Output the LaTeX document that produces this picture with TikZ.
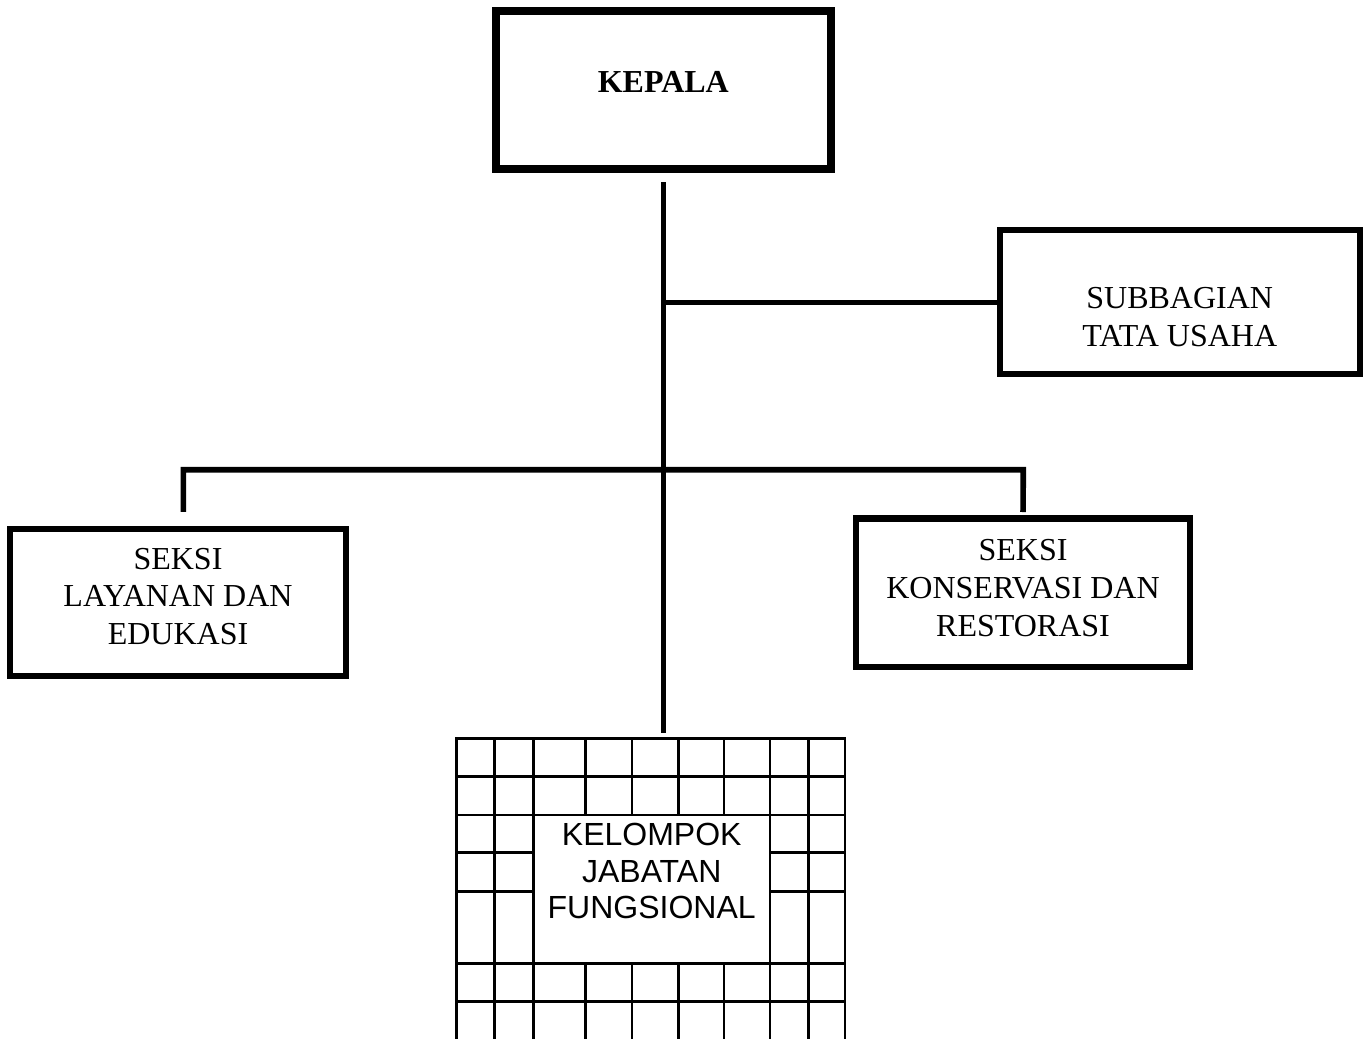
\documentclass[tikz,border=0pt]{standalone}
\usepackage{fontspec}
\setmainfont{Liberation Serif}
\newfontfamily\arialfont{Liberation Sans}
\begin{document}
\begin{tikzpicture}[x=0.5pt, y=-0.5pt,
  unit/.style={draw, rectangle, line width=3.2pt, inner sep=0pt},
  txt/.style={align=center, inner sep=0pt, font=\fontsize{16}{18.9}\selectfont},
  conn/.style={line width=2.8pt},
  gridline/.style={line width=1.3pt, line cap=rect}]
\useasboundingbox (0,0) rectangle (1368,1038);
% boxes
\node[unit, line width=4pt, minimum width=167.5pt, minimum height=79pt] (kepala) at (663.3,90){};
\node[txt, font=\fontsize{16}{18.9}\selectfont\bfseries] (kepala-t) at ([yshift=4.2pt]kepala.center){KEPALA};
\node[unit, line width=3pt, minimum width=180pt, minimum height=72pt] (subbag) at (1179.7,302.3){};
\node[txt] (subbag-t) at ([yshift=-7.2pt]subbag.center){SUBBAGIAN\\TATA USAHA};
\node[unit, line width=3pt, minimum width=168pt, minimum height=73.5pt] (layanan) at (178,602.3){};
\node[txt] (layanan-t) at ([yshift=2.9pt]layanan.center){SEKSI\\LAYANAN DAN\\EDUKASI};
\node[unit, minimum width=167pt, minimum height=74.3pt] (konservasi) at (1023,592.7){};
\node[txt] (konservasi-t) at ([yshift=2.2pt]konservasi.center){SEKSI\\KONSERVASI DAN\\RESTORASI};
% kelompok jabatan fungsional
\foreach \x in {456.7,494.3,533.3,770,808.3,845}
  \draw[gridline] (\x,738.3) -- (\x,1038);
\foreach \x in {585.7,632,678.3,724}{
  \draw[gridline] (\x,738.3) -- (\x,815);
  \draw[gridline] (\x,963.3) -- (\x,1038);
}
\foreach \y in {738.3,776.7,815,963.3,1001.7}
  \draw[gridline] (456.7,\y) -- (845,\y);
\foreach \y in {852.7,891.7}{
  \draw[gridline] (456.7,\y) -- (533.3,\y);
  \draw[gridline] (770,\y) -- (845,\y);
}
\node[inner sep=0pt, minimum width=118.3pt, minimum height=74.2pt] (kjf) at (651.7,889.2){};
\node[txt, font=\fontsize{16}{18.3}\selectfont\arialfont] (kjf-t) at ([yshift=9pt]kjf.center){KELOMPOK\\JABATAN\\FUNGSIONAL};
% lines
\coordinate (kjf-top) at (663.3,738.3);
\coordinate (bar-l) at (183.3,469.7);
\coordinate (bar-r) at (1023.3,469.7);
\draw[conn, shorten <=4.5pt, shorten >=2.7pt] (kepala.south) -- (kepala.south |- kjf-top);
\draw[conn] (kepala.south |- subbag.west) -- (subbag.west);
\draw[conn, shorten <=7pt, shorten >=1.6pt] (bar-l |- layanan.north) -- (bar-l) -- (bar-r) -- (konservasi.north);
\end{tikzpicture}
\end{document}
